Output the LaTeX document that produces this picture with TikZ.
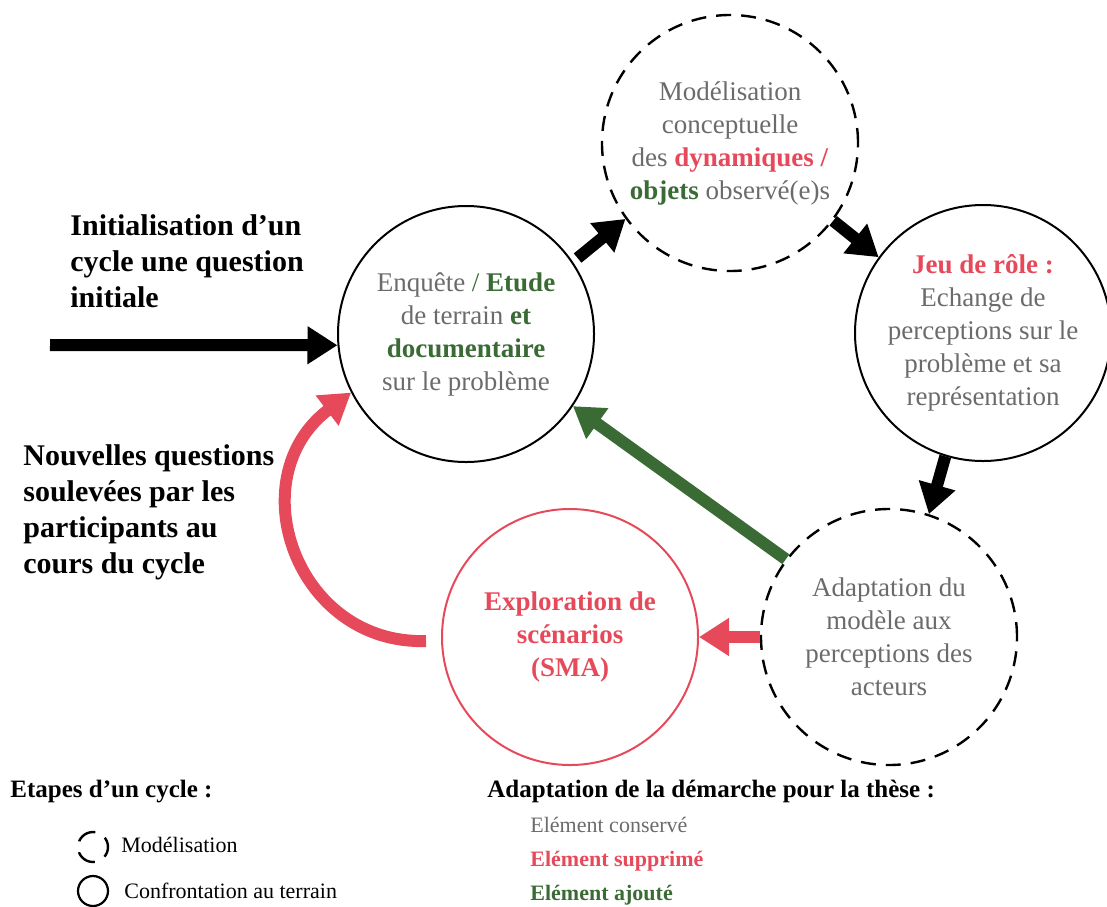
\documentclass[tikz,border=0pt]{standalone}
\usepackage{fontspec}
\setmainfont{Liberation Serif}
\usetikzlibrary{arrows.meta}
\definecolor{keptgray}{HTML}{6B6B6B}
\definecolor{cutred}{HTML}{E64A5A}
\definecolor{addgreen}{HTML}{3A6B35}
\newcommand{\cut}[1]{\textcolor{cutred}{\textbf{#1}}}
\newcommand{\added}[1]{\textcolor{addgreen}{\textbf{#1}}}
\begin{document}
\begin{tikzpicture}[x=0.5pt, y=-0.5pt,
  big arrow/.style={line width=6pt, -{Triangle[length=15pt,width=18pt]}},
  main node/.style={circle, draw, line width=1pt, minimum size=128pt, inner sep=0pt, align=center, text=keptgray, font=\fontsize{13.5}{16.5}\selectfont},
  model node/.style={main node, line width=1.2pt, dash pattern=on 7.5pt off 5pt},
  side text/.style={anchor=north west, align=left, inner sep=0pt, font=\fontsize{15}{18}\selectfont\bfseries},
  legend text/.style={anchor=base west, inner sep=0pt, font=\fontsize{11}{13}\selectfont}]
\useasboundingbox (0,0) rectangle (1107,906);

% cycle
\node [main node] (enq) at (466,334) {Enquête \textcolor{addgreen}{/} \added{Etude}\\de terrain \added{et}\\\added{documentaire}\\sur le problème};
\node [model node] (mod) at (730,143) {Modélisation\\conceptuelle\\des \cut{dynamiques /}\\\added{objets} observé(e)s};
\node [main node] (jeu) at (983,333) {\cut{Jeu de rôle :}\\Echange de\\perceptions sur le\\problème et sa\\représentation};
\node [model node] (adapt) at (889,637) {Adaptation du\\modèle aux\\perceptions des\\acteurs};
\node [main node, draw=cutred, text=cutred, font=\fontsize{13.5}{16.5}\selectfont\bfseries] (expl) at (570,637) {Exploration de\\scénarios\\(SMA)};

\node [side text] (init) at (70,214) {Initialisation d’un\\cycle une question\\initiale};
\node [side text] (newq) at (23,444) {Nouvelles questions\\soulevées par les\\participants au\\cours du cycle};
\coordinate (start) at (50,345);
\coordinate (loopstart) at (426,641);

\draw [big arrow] (start) -- (enq.185);
\draw [big arrow, shorten <=3pt] (enq.34) -- (mod.216);
\draw [big arrow] (mod.323) -- (jeu.144);
\draw [big arrow] (jeu.253) -- (adapt.72);
\draw [big arrow, addgreen] (adapt.143) -- (enq.326);
\draw [big arrow, cutred] (adapt.180) -- (expl.0);
\draw [big arrow, cutred] (loopstart) .. controls (296,645) and (238,478) .. (enq.207);

% legends
\node [anchor=base west, inner sep=0pt, font=\fontsize{12.5}{15}\selectfont\bfseries] (steps) at (10,797) {Etapes d’un cycle :};
\node [circle, draw, line width=1.2pt, minimum size=15pt, inner sep=0pt, dash pattern=on 10pt off 5.6pt, dash phase=5pt] (legmod) at (93,847) {};
\node [circle, draw, line width=1.1pt, minimum size=15pt, inner sep=0pt] (legfield) at (93,891) {};
\node [legend text] at (121,852) {Modélisation};
\node [legend text] at (124,898) {Confrontation au terrain};

\node [anchor=base west, inner sep=0pt, font=\fontsize{12.5}{15}\selectfont\bfseries] (thesis) at (487,797) {Adaptation de la démarche pour la thèse :};
\node [legend text, text=keptgray] (kept) at (530,832) {Elément conservé};
\node [legend text, text=cutred, font=\fontsize{11}{13}\selectfont\bfseries] (removed) at (530,866) {Elément supprimé};
\node [legend text, text=addgreen, font=\fontsize{11}{13}\selectfont\bfseries] (addedtext) at (530,900) {Elément ajouté};
\end{tikzpicture}
\end{document}
